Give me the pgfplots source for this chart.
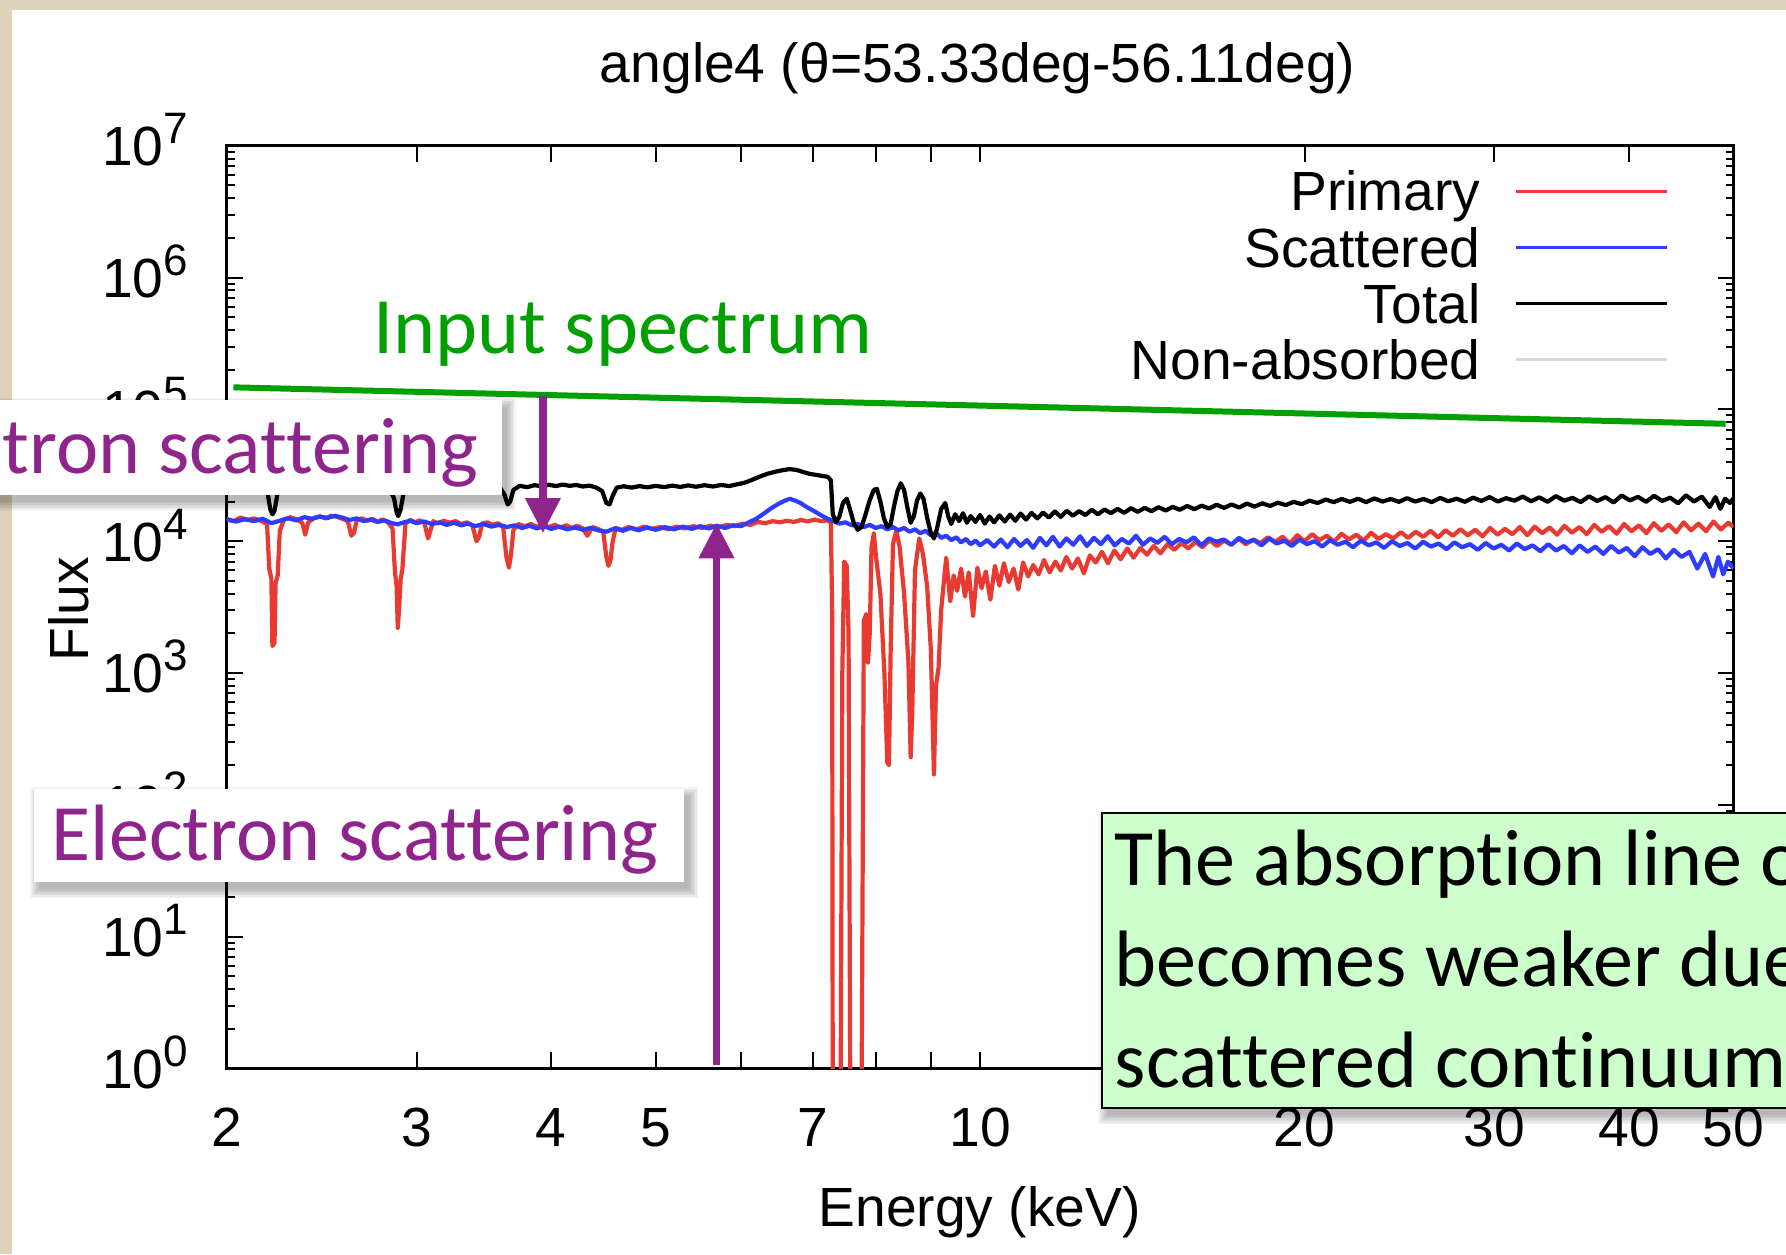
\documentclass[border=0pt]{standalone}
\usepackage{fontspec}
\setmainfont{Liberation Sans}
\newfontfamily\kfont[Ligatures={NoCommon}]{Carlito}
\usepackage{pgfplots}
\usepackage{pgfplotstable}
\pgfplotsset{compat=1.18}
\usetikzlibrary{arrows.meta}

\definecolor{gred}{RGB}{232,58,48}
\definecolor{gblue}{RGB}{45,60,255}
\definecolor{ggreen}{RGB}{0,160,0}
\definecolor{kpurple}{RGB}{142,36,140}
\definecolor{beige}{RGB}{222,210,186}
\definecolor{boxgreen}{RGB}{204,255,204}
\definecolor{nabs}{RGB}{215,215,215}

\newcommand{\gfont}{\fontsize{13.8pt}{16pt}\selectfont}
\newcommand{\kf}{\kfont\fontsize{20pt}{25.25pt}\selectfont}
\newcommand{\tp}[1]{10\raisebox{5.5pt}{\fontsize{11pt}{12pt}\selectfont #1}}
\newcommand{\fshadow}[4]{\foreach \s in {0,1.5,...,9}{\fill[black,opacity=0.045] ({#1-\s+5},{#2-\s-7}) rectangle ({#3+\s+5},{#4+\s-7});}}

\pgfplotstableread{
E F
2.00 14800
2.03 14200
2.06 15100
2.09 14500
2.12 14900
2.15 14300
2.18 13500
2.19 6200
2.20 5200
2.205 1600
2.215 1700
2.22 4800
2.23 5500
2.24 12000
2.26 14600
2.29 15200
2.32 14700
2.35 13800
2.365 11200
2.38 13900
2.41 15000
2.44 15400
2.47 14900
2.50 15600
2.53 15300
2.56 14800
2.59 14200
2.61 11000
2.625 11600
2.64 14400
2.67 14900
2.70 14300
2.73 14800
2.76 14100
2.79 14600
2.82 14000
2.85 12500
2.865 5800
2.875 4600
2.882 2200
2.89 3000
2.90 5200
2.91 6000
2.93 13600
2.96 14500
2.99 13900
3.02 14400
3.05 13800
3.075 10500
3.09 12000
3.11 14200
3.14 13600
3.18 14300
3.22 13800
3.26 14200
3.30 13500
3.34 13900
3.38 13200
3.41 10000
3.43 10800
3.45 13600
3.49 13900
3.53 13300
3.57 13700
3.61 12800
3.635 7600
3.655 6300
3.67 7800
3.69 12200
3.73 13500
3.78 13000
3.83 13500
3.88 12900
3.93 13400
3.98 12800
4.03 13300
4.08 12700
4.13 13200
4.18 12600
4.23 13100
4.28 12500
4.32 11000
4.345 11900
4.37 12800
4.42 12400
4.47 11800
4.50 7600
4.52 6500
4.54 7200
4.56 9800
4.59 12600
4.65 12200
4.72 12800
4.80 12300
4.88 12900
4.96 12400
5.05 12800
5.14 12300
5.23 12900
5.32 12500
5.42 13000
5.52 12600
5.62 13100
5.72 12700
5.82 13300
5.92 13000
6.02 13600
6.12 13300
6.22 14000
6.32 13700
6.42 14200
6.52 13900
6.62 14300
6.72 14000
6.82 14500
6.92 14100
7.02 14600
7.12 14200
7.22 14400
7.27 13800
7.29 3000
7.30 0.3
7.42 0.3
7.45 1000
7.48 7000
7.52 6500
7.55 2000
7.58 0.3
7.76 0.3
7.80 2500
7.84 2800
7.87 1200
7.90 2000
7.93 9000
7.97 11500
8.00 8000
8.08 4000
8.15 1000
8.20 210
8.23 200
8.26 1500
8.30 9500
8.36 12000
8.42 9000
8.50 4000
8.58 1200
8.62 230
8.65 500
8.70 6000
8.78 10500
8.85 8000
8.93 4500
9.00 1500
9.06 170
9.10 800
9.15 1100
9.20 3000
9.30 7500
9.38 3500
9.45 5500
9.52 4200
9.60 6200
9.68 3800
9.76 5800
9.85 2700
9.94 6300
10.03 4400
10.12 5900
10.22 3600
10.32 6500
10.42 4600
10.52 6800
10.63 4900
10.74 6200
10.85 4300
10.96 6900
11.08 5400
11.20 6600
11.33 5600
11.46 7200
11.60 5800
11.74 7000
11.88 6000
12.02 7600
12.17 6200
12.32 7400
12.48 5700
12.64 7800
12.80 6900
12.97 8300
13.14 6800
13.32 8500
13.50 7300
13.69 8800
13.88 7500
14.08 8900
14.28 7900
14.49 9200
14.70 8100
14.92 9500
15.14 8600
15.37 9700
15.60 8800
15.84 9900
16.08 9000
16.33 10200
16.58 9200
16.84 10100
17.10 9400
17.37 10400
17.64 9500
17.92 10300
18.20 9700
18.49 10700
18.78 9900
19.08 10800
19.38 9600
19.69 11100
20.00 10000
20.32 11300
20.64 10200
20.97 11000
21.30 9900
21.64 11400
21.98 10300
22.33 11200
22.69 10100
23.05 11600
23.42 10400
23.79 11300
24.17 10500
24.56 11700
24.95 10600
25.35 11800
25.76 10800
26.17 12000
26.59 10700
27.02 12100
27.45 11000
27.89 12300
28.34 11100
28.79 12200
29.25 10900
29.72 12600
30.20 11200
30.68 12400
31.17 11300
31.67 12800
32.18 11100
32.69 12900
33.22 11500
33.75 12700
34.29 11200
34.84 13100
35.40 11600
35.97 12800
36.54 11300
37.13 13300
37.73 11800
38.33 13000
38.95 11400
39.57 13500
40.20 11900
40.85 13200
41.50 11500
42.17 13700
42.84 12000
43.53 13400
44.23 11700
44.94 13900
45.66 12100
46.39 13600
47.14 11900
47.89 14100
48.66 12300
49.44 13800
50.00 12800
}\tprimary

\pgfplotstableread{
E F
2.00 14600
2.04 14100
2.08 14700
2.12 14200
2.16 14800
2.20 13700
2.24 14300
2.28 14900
2.32 14400
2.36 15200
2.40 14800
2.44 15400
2.48 15000
2.52 15600
2.56 15100
2.60 14500
2.64 14900
2.68 14200
2.72 14600
2.76 14000
2.80 14400
2.84 13800
2.88 13400
2.92 13900
2.96 14300
3.00 13700
3.05 14100
3.10 13500
3.15 13900
3.20 13300
3.25 13800
3.30 13200
3.35 13600
3.40 13000
3.46 13500
3.52 12900
3.58 13300
3.64 12800
3.70 13200
3.76 12600
3.82 13100
3.88 12500
3.94 13000
4.00 12400
4.07 12900
4.14 12300
4.21 12700
4.28 12200
4.35 12600
4.42 12100
4.50 11800
4.58 12500
4.66 12000
4.74 12600
4.82 12100
4.91 12700
5.00 12200
5.10 12800
5.20 12300
5.30 12900
5.40 12400
5.50 13000
5.60 12500
5.70 13100
5.80 12600
5.90 13200
6.00 13000
6.10 13900
6.20 14800
6.30 16200
6.40 17800
6.50 19200
6.58 20200
6.66 21000
6.74 20300
6.82 19400
6.90 18200
6.98 17300
7.06 16400
7.14 15500
7.22 14800
7.30 14300
7.40 13600
7.50 13900
7.60 13200
7.70 13500
7.80 12800
7.90 13300
8.00 12600
8.10 13000
8.20 12300
8.30 12800
8.40 12100
8.50 12600
8.60 11800
8.70 12300
8.80 11500
8.90 12000
9.00 11100
9.10 11600
9.20 10600
9.30 11000
9.40 10200
9.50 10700
9.60 9800
9.70 10400
9.80 9500
9.90 10100
10.00 9300
10.15 10200
10.30 9100
10.45 10300
10.60 9000
10.75 10400
10.90 9200
11.05 10200
11.20 8900
11.36 10600
11.52 9300
11.68 10800
11.85 9100
12.02 10500
12.20 9400
12.38 10900
12.56 9200
12.75 10600
12.94 9500
13.13 10900
13.33 9300
13.53 10400
13.74 9600
13.95 11000
14.16 9400
14.38 10500
14.60 9700
14.83 10800
15.06 9500
15.30 10400
15.54 9800
15.79 10700
16.04 9300
16.30 10500
16.56 9900
16.83 10300
17.10 9400
17.38 10600
17.66 9800
17.95 10200
18.24 9300
18.54 10500
18.84 9600
19.15 10100
19.46 9200
19.78 10300
20.10 9500
20.43 10000
20.77 9100
21.11 10200
21.46 9400
21.82 9900
22.18 9000
22.55 10100
22.93 9300
23.31 9800
23.70 8900
24.10 10000
24.50 9200
24.91 9700
25.33 8800
25.76 9900
26.19 9100
26.63 9600
27.08 8700
27.54 9800
28.00 9000
28.47 9500
28.95 8600
29.44 9700
29.94 8800
30.44 9400
30.95 8500
31.47 9600
32.00 8700
32.54 9300
33.09 8400
33.65 9500
34.22 8500
34.80 9200
35.39 8100
35.99 9300
36.60 8300
37.22 9100
37.85 8000
38.49 9200
39.14 8200
39.80 8900
40.47 7700
41.15 9000
41.85 8000
42.55 8700
43.27 7400
44.00 8600
44.74 7600
45.50 8300
46.27 6200
47.05 8000
47.85 5400
48.40 7600
48.90 5600
49.40 7000
50.00 6200
}\tscatter

\pgfplotstableread{
E F
2.00 25800
2.05 26500
2.10 25600
2.15 26300
2.18 24500
2.195 17500
2.205 16000
2.215 17000
2.23 23500
2.27 26200
2.32 25500
2.37 26400
2.42 25800
2.47 26600
2.52 26000
2.57 26800
2.62 25500
2.67 26300
2.72 25700
2.77 26400
2.83 25300
2.86 21000
2.875 16500
2.885 15500
2.90 17500
2.92 24000
2.96 26000
3.01 25400
3.06 26200
3.11 25600
3.16 26300
3.21 25700
3.26 26400
3.31 25800
3.36 26500
3.41 25500
3.46 26200
3.52 25600
3.58 26100
3.62 22500
3.645 19000
3.665 20000
3.69 24500
3.74 26300
3.80 25700
3.86 26600
3.92 26100
3.98 26800
4.04 26200
4.10 26900
4.16 26300
4.22 26700
4.28 26000
4.34 26400
4.40 25600
4.46 24000
4.50 19500
4.53 19000
4.56 22000
4.60 25500
4.67 26100
4.75 25500
4.83 26200
4.91 25600
5.00 26300
5.09 25700
5.18 26400
5.27 25800
5.36 26500
5.45 25900
5.55 26600
5.65 26000
5.75 26700
5.85 26200
5.95 27000
6.05 27800
6.15 29300
6.25 31000
6.35 32500
6.45 33600
6.55 34500
6.65 35200
6.75 34800
6.85 33500
6.95 32400
7.05 31800
7.15 31200
7.22 30800
7.27 29000
7.30 16000
7.35 14000
7.40 15200
7.46 19500
7.52 21000
7.58 17000
7.64 13500
7.70 12200
7.76 12800
7.82 15500
7.90 20500
7.97 24500
8.02 25000
8.08 20000
8.14 15000
8.20 12800
8.26 13500
8.32 18500
8.38 24000
8.44 27500
8.50 24500
8.56 18000
8.62 13800
8.68 15500
8.74 20500
8.80 23000
8.86 21000
8.93 15000
9.00 11500
9.06 10500
9.12 12500
9.20 17500
9.28 19500
9.34 15500
9.40 13500
9.48 16000
9.56 14200
9.64 16300
9.72 13800
9.80 15500
9.90 14000
10.00 15800
10.10 13600
10.20 15400
10.30 13900
10.42 15700
10.54 14100
10.66 15900
10.78 14300
10.90 16200
11.03 14600
11.16 16400
11.30 14900
11.44 16500
11.58 15100
11.73 16800
11.88 15300
12.03 17000
12.19 15600
12.35 16900
12.52 15800
12.69 17300
12.86 16000
13.04 17400
13.22 16300
13.41 17600
13.60 16400
13.80 17800
14.00 16700
14.21 17900
14.42 16900
14.64 18100
14.86 17100
15.09 18200
15.32 17300
15.56 18500
15.80 17500
16.05 18600
16.31 17700
16.57 18900
16.84 17900
17.11 19000
17.39 18000
17.68 19300
17.97 18300
18.27 19400
18.58 18500
18.89 19600
19.21 18800
19.54 19900
19.87 19100
20.21 20300
20.56 19500
20.92 20700
21.28 19800
21.65 20900
22.03 19900
22.42 21000
22.81 19800
23.21 21100
23.62 20000
24.04 20900
24.46 19900
24.89 21200
25.33 20000
25.78 20900
26.24 19800
26.71 21300
27.18 20100
27.67 21000
28.16 19900
28.66 21400
29.17 20200
29.69 21600
30.22 20000
30.76 21200
31.31 20300
31.87 21800
32.44 20100
33.02 21500
33.61 19900
34.21 22000
34.82 20300
35.44 21300
36.07 19800
36.71 21900
37.36 20200
38.02 21600
38.69 19700
39.37 22200
40.06 20400
40.76 21700
41.47 19900
42.19 22100
42.92 20200
43.66 21400
44.41 19400
45.17 22300
45.94 20000
46.72 21800
47.51 18200
48.10 21600
48.60 17600
49.10 21000
49.60 19500
50.00 21200
}\ttotal

\begin{document}
\begin{tikzpicture}[x=0.25pt,y=0.25pt]
\useasboundingbox (0,0) rectangle (1786,1254);
\clip (0,0) rectangle (1786,1254);
\fill[beige] (0,0) rectangle (1786,1254);
\fill[white] (12,-5) rectangle (1800,1244);
\begin{axis}[
  at={(56.675pt,46.4pt)}, anchor=south west,
  scale only axis, width=376.725pt, height=230.65pt,
  xmode=log, ymode=log,
  xmin=2, xmax=50, ymin=1, ymax=1e7,
  axis line style={line width=0.8pt, black},
  tick style={line width=0.5pt, black},
  tick align=inside,
  major tick length=4pt, minor tick length=2pt,
  xtick={2,3,4,5,6,7,8,9,10,20,30,40,50},
  xticklabels={2,3,4,5,,7,,,10,20,30,40,50},
  minor xtick={},
  ytick={1,10,100,1000,1e4,1e5,1e6,1e7},
  yticklabels={\tp{0},\tp{1},\tp{2},\tp{3},\tp{4},\tp{5},\tp{6},\tp{7}},
  minor ytick={2,3,4,5,6,7,8,9,20,30,40,50,60,70,80,90,200,300,400,500,600,700,800,900,2000,3000,4000,5000,6000,7000,8000,9000,2e4,3e4,4e4,5e4,6e4,7e4,8e4,9e4,2e5,3e5,4e5,5e5,6e5,7e5,8e5,9e5,2e6,3e6,4e6,5e6,6e6,7e6,8e6,9e6},
  xticklabel style={font=\gfont, inner sep=0pt, outer sep=0pt, anchor=north, yshift=-10pt},
  yticklabel style={font=\gfont, inner sep=0pt, outer sep=0pt, anchor=base east, xshift=-9.7pt, yshift=-4.95pt},
  xlabel={Energy (keV)},
  ylabel={Flux},
  xlabel style={font=\gfont, inner sep=0pt, at={(axis description cs:0.4996,-0.1716)}, anchor=base},
  ylabel style={font=\gfont, inner sep=0pt, at={(axis description cs:-0.0915,0.4975)}, anchor=base},
  title={angle4 (θ=53.33deg-56.11deg)},
  title style={font=\gfont, inner sep=0pt, at={(axis description cs:0.4984,1.0426)}, anchor=base},
  legend plot pos=right,
  legend cell align=right,
  legend image code/.code={\draw[#1, line width=0.75pt] (0pt,1.4pt) -- (37.75pt,1.4pt);},
  legend style={at={(axis description cs:0.9571,0.9723)}, anchor=north east,
    draw=none, fill=none, font=\gfont, inner sep=0pt, outer sep=0pt,
    row sep=1.25pt, column sep=8.6pt,
    nodes={inner sep=0pt, text height=9.9pt, text depth=2.9pt}},
]
\addplot[gred, line width=1.05pt, line join=round] table[x=E,y=F] {\tprimary};
\addlegendentry{Primary}
\addplot[gblue, line width=1.05pt, line join=round] table[x=E,y=F] {\tscatter};
\addlegendentry{Scattered}
\addplot[black, line width=1.05pt, line join=round] table[x=E,y=F] {\ttotal};
\addlegendentry{Total}
\addlegendimage{nabs, line width=0.8pt}
\addlegendentry{Non-absorbed}
\addplot[ggreen, line width=1.5pt, forget plot] coordinates {(2.029,1.47e5) (49.16,7.78e4)};
\draw[kpurple, line width=1.8pt, -{Triangle[width=8.5pt,length=8.8pt]}] (axis cs:3.93,1.26e5) -- (axis cs:3.93,1.15e4);
\draw[kpurple, line width=1.8pt, -{Triangle[width=8.5pt,length=8.8pt]}] (axis cs:5.694,1.06) -- (axis cs:5.694,1.37e4);
\end{axis}
% Input spectrum label
\node[anchor=base west, inner sep=0pt, text=ggreen, font=\kf] at (373,900) {Input spectrum};
% upper electron scattering box
\fshadow{-20}{759}{501.7}{854}
\fill[white] (-20,759) rectangle (501.7,854);
\node[anchor=base west, inner sep=0pt, text=kpurple, font=\kf] at (-129,780) {Electron scattering};
% lower electron scattering box
\fshadow{34}{372}{684}{465}
\fill[white] (34,372) rectangle (684,465);
\node[anchor=base west, inner sep=0pt, text=kpurple, font=\kf] at (51,394) {Electron scattering};
% green box
\fshadow{1102}{146}{1800}{441}
\filldraw[fill=boxgreen, draw=black, line width=0.6pt] (1102,146) rectangle (1800,441);
\node[anchor=base west, inner sep=0pt, font=\kf] at (1114,369) {The absorption line of};
\node[anchor=base west, inner sep=0pt, font=\kf] at (1114,268) {becomes weaker due to};
\node[anchor=base west, inner sep=0pt, font=\kf] at (1114,166.4) {scattered continuum};
\end{tikzpicture}
\end{document}
